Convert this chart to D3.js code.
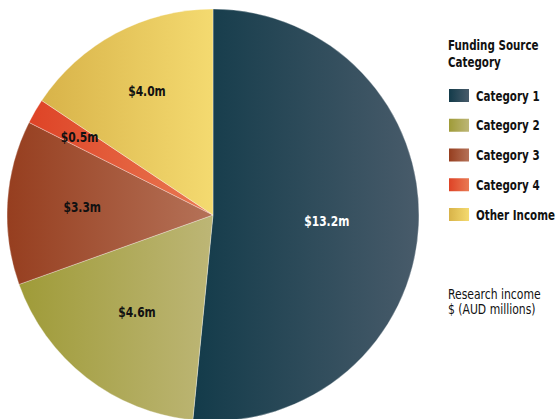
<!DOCTYPE html>
<html><head><meta charset="utf-8">
<script src="https://cdn.jsdelivr.net/npm/d3@7/dist/d3.min.js"></script>
<style>
html,body{margin:0;padding:0;background:#fff;}
svg{display:block;}
text{font-family:"DejaVu Sans Condensed","Liberation Sans Narrow",sans-serif;}
</style></head>
<body>
<svg id="c" width="558" height="419"></svg>
<script>
const categories = ["Category 1","Category 2","Category 3","Category 4","Other Income"];
const values = [13.2, 4.6, 3.3, 0.5, 4.0];
const valueLabels = ["$13.2m","$4.6m","$3.3m","$0.5m","$4.0m"];
const legendTitle = ["Funding Source","Category"];
const noteLines = ["Research income","$ (AUD millions)"];

const colorsLeft  = ["#133b4a","#9f9b38","#963e1f","#de4326","#d8b349"];
const colorsRight = ["#485b6a","#bdb676","#b57258","#e97a53","#f4da70"];
const labelColors = ["#ffffff","#111111","#111111","#111111","#111111"];
const labelRadiusFrac = [0.553,0.60,0.636,0.75,0.68];

const svg = d3.select("#c");
const cx = 213, cy = 215, R = 206;
const SX = 0.82;

function addText(parent, x, y, str, size, weight, fill, anchor, sx){
  return parent.append("text")
    .attr("transform",`translate(${x},${y}) scale(${sx||SX},1)`)
    .attr("font-size",size).attr("font-weight",weight||"normal")
    .attr("fill",fill||"#111").attr("text-anchor",anchor||"start")
    .text(str);
}

const defs = svg.append("defs");
categories.forEach((c,i)=>{
  const g = defs.append("linearGradient").attr("id","g"+i)
    .attr("x1","0%").attr("x2","100%").attr("y1","0%").attr("y2","0%");
  g.append("stop").attr("offset","0%").attr("stop-color",colorsLeft[i]);
  g.append("stop").attr("offset","100%").attr("stop-color",colorsRight[i]);
});

const pie = d3.pie().sort(null).value(d=>d)(values);
const arc = d3.arc().innerRadius(0).outerRadius(R);
const g = svg.append("g").attr("transform",`translate(${cx},${cy})`);
g.selectAll("path").data(pie).join("path")
  .attr("d",arc)
  .attr("fill",(d,i)=>`url(#g${i})`)
  .attr("stroke","rgba(255,255,255,0.45)")
  .attr("stroke-width",0.7);

pie.forEach((d,i)=>{
  const r = R*labelRadiusFrac[i];
  const c = d3.arc().innerRadius(r).outerRadius(r).centroid(d);
  addText(g, c[0], c[1]+5, valueLabels[i], 14, "bold", labelColors[i], "middle", 0.85);
});

const lg = svg.append("g");
legendTitle.forEach((t,i)=>{
  addText(lg, 448, 50+i*17, t, 14, "bold", "#111", "start", 0.82);
});
const rowY = d3.scalePoint().domain(categories).range([89,208]);
categories.forEach((c,i)=>{
  const y = rowY(c);
  lg.append("rect").attr("x",449).attr("y",y).attr("width",20).attr("height",13)
    .attr("fill",`url(#g${i})`);
  addText(lg, 476, y+11.5, c, 14, "bold", "#111", "start", 0.82);
});
noteLines.forEach((t,i)=>{
  addText(svg, 448, 299+i*15, t, 14, "normal", "#111", "start", 0.86);
});
</script>
</body></html>
